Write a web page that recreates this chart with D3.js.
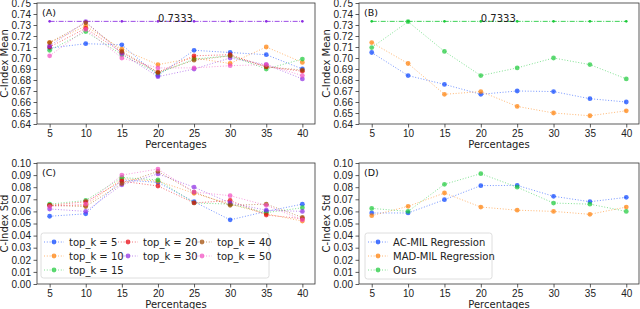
<!DOCTYPE html>
<html><head><meta charset="utf-8">
<script src="https://cdn.jsdelivr.net/npm/d3@7"></script>
<style>body{margin:0;background:#fff}svg{display:block;font-family:"DejaVu Sans",sans-serif}</style>
</head><body><svg id="c" width="640" height="309"></svg>
<script>
const percentages = [5, 10, 15, 20, 25, 30, 35, 40];
const topKLabels = ["top_k = 5", "top_k = 10", "top_k = 15", "top_k = 20", "top_k = 30", "top_k = 40", "top_k = 50"];
const methodLabels = ["AC-MIL Regression", "MAD-MIL Regression", "Ours"];
const meanTicks = [0.64,0.65,0.66,0.67,0.68,0.69,0.70,0.71,0.72,0.73,0.74,0.75];
const stdTicks = [0.00,0.01,0.02,0.03,0.04,0.05,0.06,0.07,0.08,0.09,0.10];
const refValue = 0.7333;

// Panel A: C-Index mean per top_k
const meanK5  = [0.709, 0.713, 0.712, 0.684, 0.707, 0.705, 0.703, 0.690];
const meanK10 = [0.714, 0.729, 0.708, 0.694, 0.700, 0.695, 0.710, 0.696];
const meanK15 = [0.707, 0.724, 0.703, 0.686, 0.699, 0.702, 0.690, 0.699];
const meanK20 = [0.710, 0.727, 0.705, 0.687, 0.702, 0.703, 0.692, 0.688];
const meanK30 = [0.711, 0.733, 0.704, 0.683, 0.690, 0.700, 0.694, 0.681];
const meanK40 = [0.714, 0.732, 0.706, 0.687, 0.698, 0.702, 0.692, 0.689];
const meanK50 = [0.702, 0.726, 0.700, 0.691, 0.691, 0.693, 0.694, 0.684];
// Panel C: C-Index std per top_k
const stdK5  = [0.056, 0.058, 0.086, 0.084, 0.068, 0.053, 0.060, 0.066];
const stdK10 = [0.065, 0.065, 0.087, 0.085, 0.075, 0.066, 0.058, 0.052];
const stdK15 = [0.066, 0.069, 0.088, 0.086, 0.067, 0.066, 0.059, 0.063];
const stdK20 = [0.065, 0.068, 0.085, 0.081, 0.067, 0.069, 0.057, 0.054];
const stdK30 = [0.062, 0.060, 0.082, 0.091, 0.080, 0.067, 0.061, 0.060];
const stdK40 = [0.065, 0.064, 0.083, 0.093, 0.076, 0.065, 0.066, 0.055];
const stdK50 = [0.064, 0.066, 0.090, 0.095, 0.076, 0.073, 0.065, 0.053];
// Panel B: C-Index mean per method
const meanAC   = [0.705, 0.684, 0.676, 0.667, 0.670, 0.6695, 0.663, 0.660];
const meanMAD  = [0.714, 0.695, 0.667, 0.6695, 0.656, 0.650, 0.6475, 0.652];
const meanOurs = [0.7095, 0.733, 0.706, 0.684, 0.691, 0.700, 0.694, 0.681];
// Panel D: C-Index std per method
const stdAC   = [0.0587, 0.0587, 0.0697, 0.0813, 0.0815, 0.0725, 0.068, 0.0716];
const stdMAD  = [0.0565, 0.0642, 0.0752, 0.0636, 0.061, 0.060, 0.0576, 0.0636];
const stdOurs = [0.0625, 0.060, 0.0824, 0.0912, 0.080, 0.0669, 0.066, 0.060];

const palette = ["#023eff", "#ff7c00", "#1ac938", "#e8000b", "#8b2be2", "#9f4800", "#f14cc1"];

const svg = d3.select("#c");

function panel(opts) {
  const {x0, x1, y0, y1, yDomain, ticks, yLabel, tag, series, colors, labels, ref, refColor, legend} = opts;
  const g = svg.append("g");
  const x = d3.scaleLinear().domain([3.25, 41.75]).range([x0, x1]);
  const y = d3.scaleLinear().domain(yDomain).range([y1, y0]);

  const ax = g.append("g").attr("transform", `translate(0,${y1})`)
    .call(d3.axisBottom(x).tickValues(percentages).tickSize(3.5).tickPadding(2.5).tickFormat(d3.format("d")));
  const ay = g.append("g").attr("transform", `translate(${x0},0)`)
    .call(d3.axisLeft(y).tickValues(ticks).tickSize(3.5).tickPadding(2.5).tickFormat(d3.format(".2f")));
  [ax, ay].forEach(a => {
    a.select(".domain").remove();
    a.selectAll("text").attr("font-size", 10).attr("fill", "#222");
    a.selectAll("line").attr("stroke", "#333").attr("stroke-width", 0.8);
  });
  g.append("rect").attr("x", x0).attr("y", y0).attr("width", x1 - x0).attr("height", y1 - y0)
    .attr("fill", "none").attr("stroke", "#333").attr("stroke-width", 0.8);

  g.append("text").attr("x", (x0 + x1) / 2).attr("y", y1 + 24).attr("text-anchor", "middle")
    .attr("font-size", 10).attr("fill", "#222").text("Percentages");
  g.append("text").attr("transform", `translate(${x0 - 29},${(y0 + y1) / 2}) rotate(-90)`)
    .attr("text-anchor", "middle").attr("font-size", 10).attr("fill", "#222").text(yLabel);
  g.append("text").attr("x", x0 + 5).attr("y", y0 + 13).attr("font-size", 9.5).attr("fill", "#111").text(tag);

  const line = d3.line().x((d, i) => x(percentages[i])).y(d => y(d));
  if (ref !== undefined) {
    const refData = percentages.map(() => ref);
    g.append("path").attr("d", line(refData)).attr("fill", "none").attr("stroke", refColor)
      .attr("stroke-width", 1).attr("stroke-dasharray", "5,1.5,1,1.5").attr("opacity", 0.85);
    g.selectAll(null).data(refData).enter().append("circle")
      .attr("cx", (d, i) => x(percentages[i])).attr("cy", d => y(d)).attr("r", 1.3).attr("fill", refColor);
    g.append("text").attr("x", x(20)).attr("y", y(ref) + 1).attr("font-size", 10).attr("fill", "#222").text(ref.toFixed(4));
  }
  series.forEach((s, k) => {
    g.append("path").attr("d", line(s)).attr("fill", "none").attr("stroke", colors[k])
      .attr("stroke-width", 1).attr("stroke-dasharray", "1,1.8").attr("opacity", 0.55);
    g.selectAll(null).data(s).enter().append("circle")
      .attr("cx", (d, i) => x(percentages[i])).attr("cy", d => y(d)).attr("r", 2.4)
      .attr("fill", colors[k]).attr("opacity", 0.7);
  });

  if (legend) {
    const lg = g.append("g");
    lg.append("rect").attr("x", legend.x).attr("y", legend.y).attr("width", legend.w).attr("height", legend.h)
      .attr("rx", 2.5).attr("fill", "#fff").attr("fill-opacity", 0.8).attr("stroke", "#d6d6d6").attr("stroke-width", 0.8);
    // matplotlib-style column filling: first columns get the extra items
    const ncol = legend.ncol, n = labels.length;
    const base = Math.floor(n / ncol), extra = n % ncol;
    let idx = 0;
    for (let c = 0; c < ncol; c++) {
      const cnt = base + (c < extra ? 1 : 0);
      for (let r = 0; r < cnt; r++, idx++) {
        const k = idx;
        const lx = legend.x + 3 + c * legend.colW, ly = legend.y + 9 + r * 14;
        lg.append("line").attr("x1", lx).attr("x2", lx + 20).attr("y1", ly).attr("y2", ly)
          .attr("stroke", colors[k]).attr("stroke-width", 1).attr("stroke-dasharray", "1,1.8").attr("opacity", 0.55);
        lg.append("circle").attr("cx", lx + 10).attr("cy", ly).attr("r", 2.4).attr("fill", colors[k]).attr("opacity", 0.7);
        lg.append("text").attr("x", lx + 25).attr("y", ly + 3.5).attr("font-size", 10).attr("fill", "#222").text(labels[k]);
      }
    }
  }
}

const topKColors = palette;
const methodColors = palette.slice(0, 3);

panel({x0: 37, x1: 315, y0: 3, y1: 124, yDomain: [0.64, 0.75], ticks: meanTicks, yLabel: "C-Index Mean", tag: "(A)",
  series: [meanK5, meanK10, meanK15, meanK20, meanK30, meanK40, meanK50], colors: topKColors, labels: topKLabels,
  ref: refValue, refColor: palette[4]});
panel({x0: 359, x1: 639, y0: 3, y1: 124, yDomain: [0.64, 0.75], ticks: meanTicks, yLabel: "C-Index Mean", tag: "(B)",
  series: [meanAC, meanMAD, meanOurs], colors: methodColors, labels: methodLabels,
  ref: refValue, refColor: palette[2]});
panel({x0: 37, x1: 315, y0: 163, y1: 284, yDomain: [0, 0.10], ticks: stdTicks, yLabel: "C-Index Std", tag: "(C)",
  series: [stdK5, stdK10, stdK15, stdK20, stdK30, stdK40, stdK50], colors: topKColors, labels: topKLabels,
  legend: {x: 41, y: 233, w: 228, h: 45, ncol: 3, colW: 74}});
panel({x0: 359, x1: 639, y0: 163, y1: 284, yDomain: [0, 0.10], ticks: stdTicks, yLabel: "C-Index Std", tag: "(D)",
  series: [stdAC, stdMAD, stdOurs], colors: methodColors, labels: methodLabels,
  legend: {x: 365, y: 233, w: 127, h: 46, ncol: 1, colW: 0}});
</script></body></html>
